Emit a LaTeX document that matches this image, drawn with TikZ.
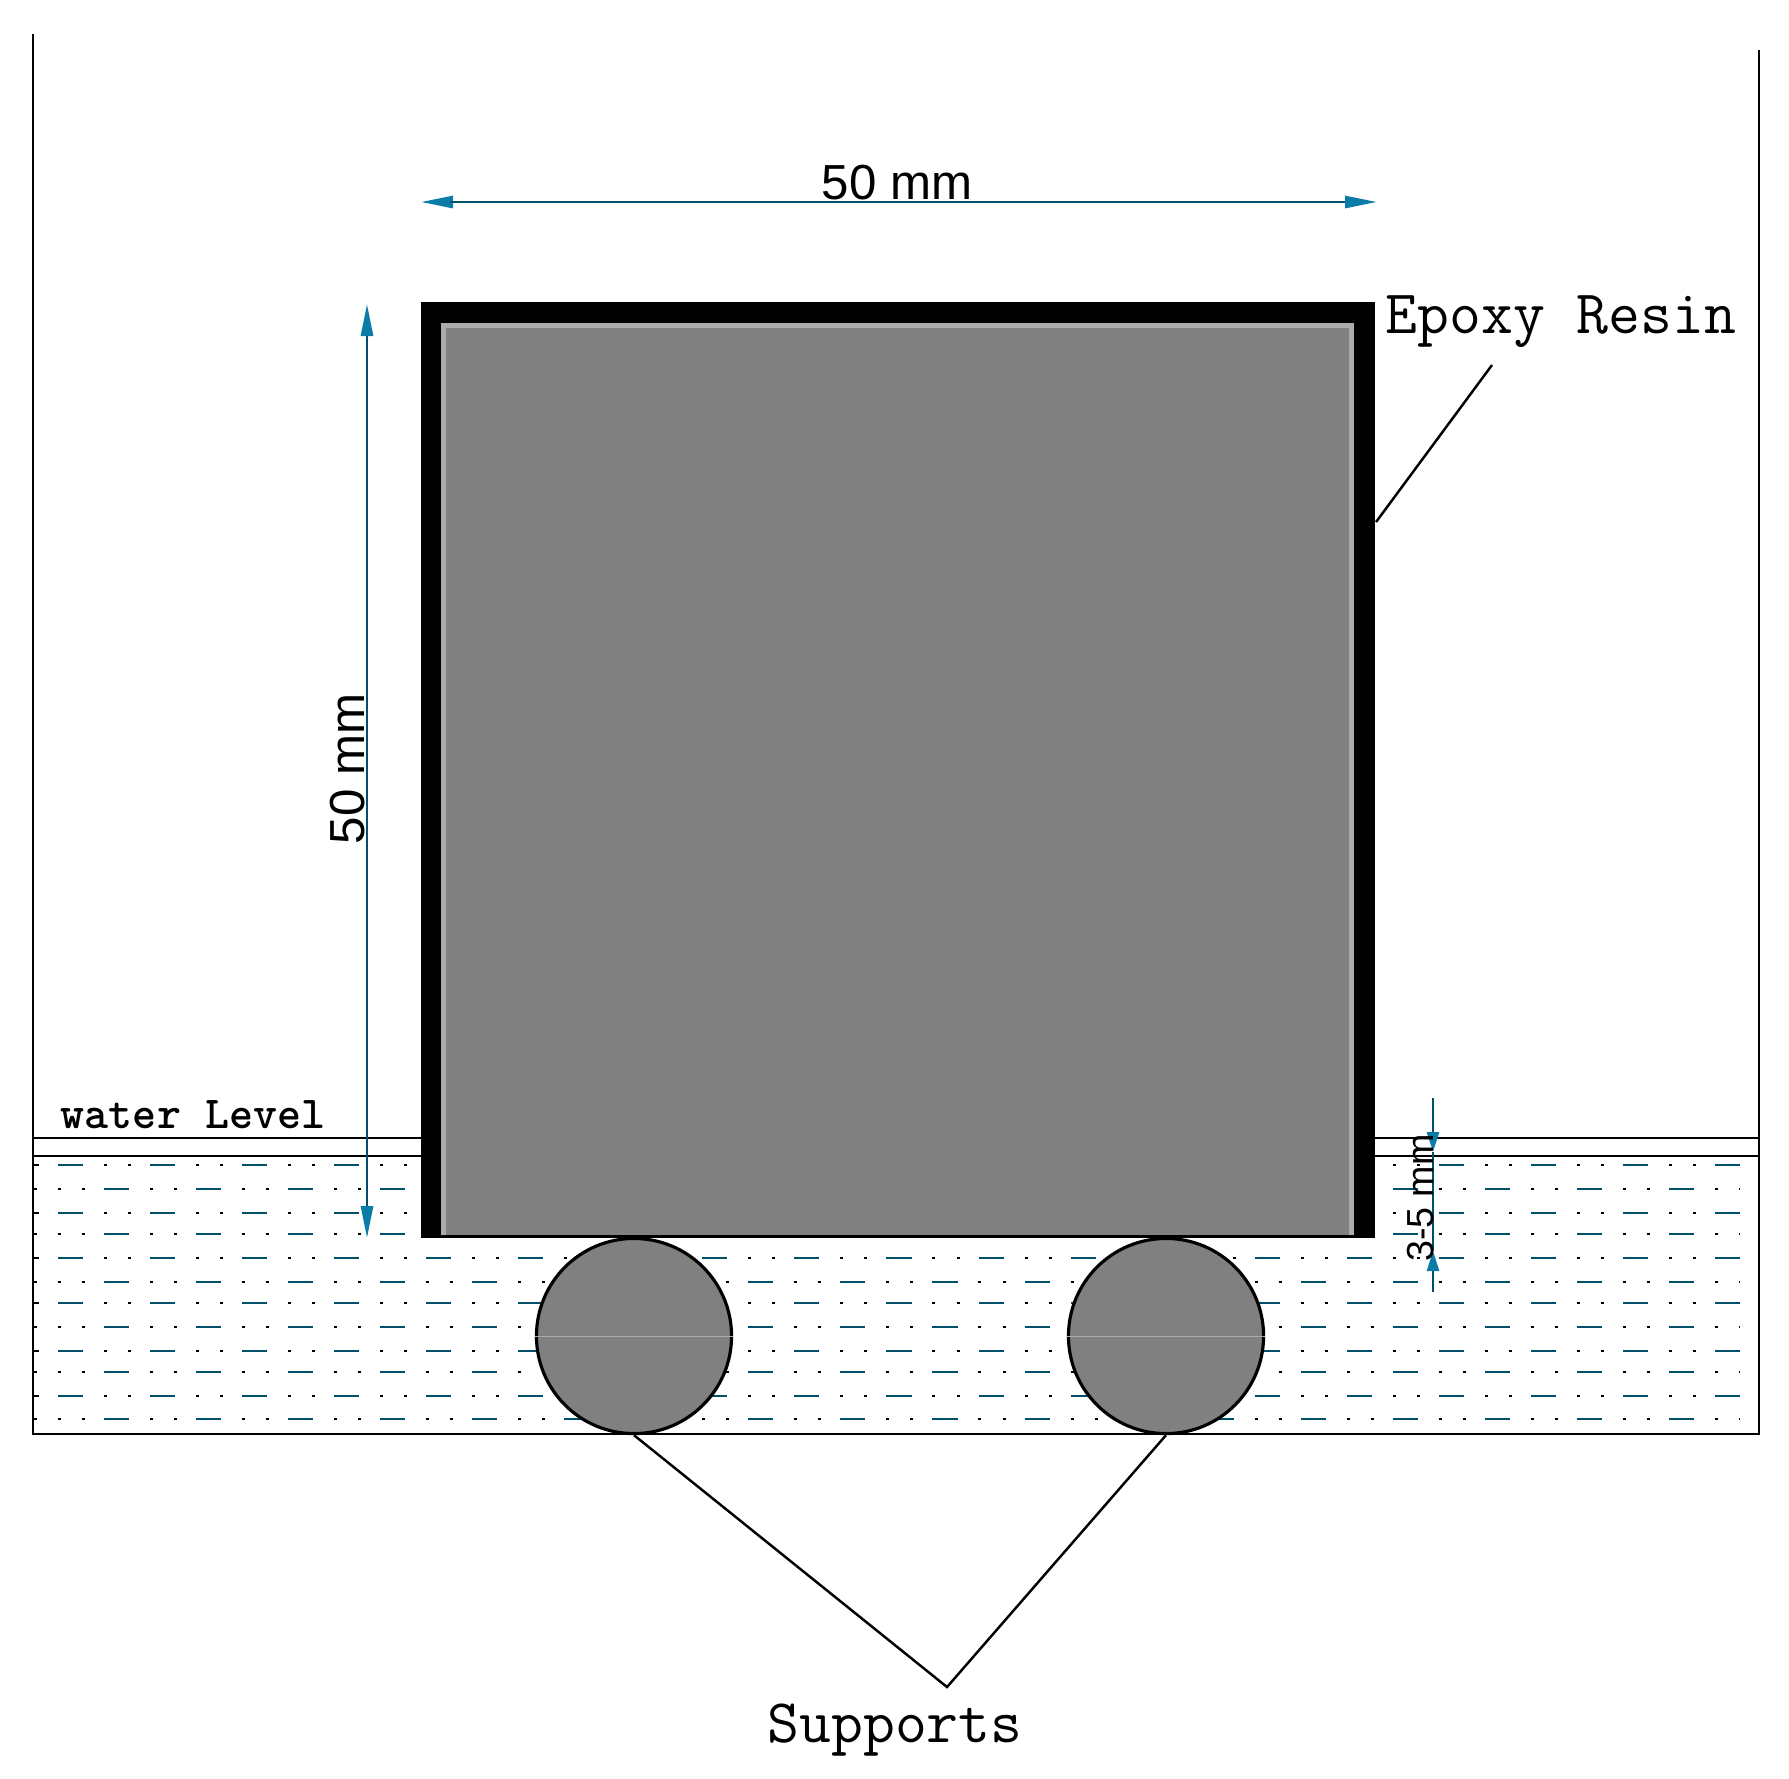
\documentclass[tikz,border=0pt]{standalone}
\usepackage{fontspec}
\newfontfamily\dimfont{Liberation Sans}
\usetikzlibrary{positioning,arrows.meta}
\definecolor{colLine}{HTML}{004F6B}
\definecolor{colTip}{HTML}{0A7CA8}
\definecolor{colFill}{HTML}{808080}
\definecolor{colEdge}{HTML}{ABABAB}
\tikzstyle{styBlock}=[rectangle,fill=black,inner sep=0,outer sep=0,minimum width=9.54cm,minimum height=9.36cm]
\tikzstyle{styEdge}=[rectangle,fill=colEdge,inner sep=0,outer sep=0,minimum width=9.13cm,minimum height=9.12cm]
\tikzstyle{styCore}=[rectangle,fill=colFill,inner sep=0,outer sep=0,minimum width=9.03cm,minimum height=9.07cm]
\tikzstyle{styRoll}=[circle,draw=black,line width=0.9pt,fill=colFill,inner sep=0,minimum size=1.95cm]
\tikzstyle{styWall}=[black,line width=0.8pt]
\tikzstyle{styThin}=[black,line width=0.7pt]
\tikzstyle{myarrow}=[colLine,line width=0.8pt,-{Stealth[length=0.32cm,width=0.12cm,inset=0pt,fill=colTip,color=colTip]}]
\tikzstyle{shortarrow}=[colLine,line width=0.8pt,-{Stealth[length=0.2cm,width=0.12cm,inset=0pt,fill=colTip,color=colTip]}]
\tikzstyle{styDash}=[colLine,line width=0.8pt,dash pattern=on 0.25cm off 0.67cm]
\tikzstyle{styDot}=[black,line width=0.8pt,dash pattern=on 0.03cm off 0.21cm on 0.03cm off 0.65cm]
\tikzstyle{styLabel}=[inner sep=0,font=\ttfamily\fontsize{17.6}{20}\selectfont]
\tikzstyle{styWater}=[inner sep=0,font=\ttfamily\bfseries\fontsize{13}{15}\selectfont]
\tikzstyle{styDim}=[inner sep=0,font=\dimfont\fontsize{14}{16}\selectfont]

\begin{document}
\begin{tikzpicture}[x=0.01cm,y=-0.01cm]
\useasboundingbox (0,0) rectangle (1789,1778);

% water, row by row
\foreach \rowY/\rowX in {1165/58,1189/104,1213/58,1234/104,1258/58,1282/104,1303/58,1327/104,1351/58,1372/104,1396/58,1419/104} {
  \begin{scope}
  \clip (34,1150) rectangle (1740,1430);
  \draw[styDash] (\rowX,\rowY) -- (1740,\rowY);
  \draw[styDot] (\rowX+46,\rowY) -- (1740,\rowY);
  \draw[styDot] (\rowX-46,\rowY) -- (\rowX,\rowY);
  \end{scope}
  \fill (33,\rowY-1) rectangle (37,\rowY+1);
}

% tank
\coordinate (tankTL) at (33,34);
\coordinate (tankBL) at (33,1434);
\coordinate (tankBR) at (1759,1434);
\coordinate (tankTR) at (1759,50);
\draw[styWall] (tankTL) -- (tankBL) -- (tankBR) -- (tankTR);

% block
\node[styBlock] (nodeBlock) at (898,770) {};
\node[styEdge] (nodeEdge) at (897.5,779) {};
\node[styCore] (nodeCore) at (897.5,781.5) {};

% water level
\draw[styThin] (33,1138) -- (nodeBlock.west |- 0,1138);
\draw[styThin] (33,1156) -- (nodeBlock.west |- 0,1156);
\draw[styThin] (nodeBlock.east |- 0,1138) -- (1759,1138);
\draw[styThin] (nodeBlock.east |- 0,1156) -- (1759,1156);
\node[styWater] (nodeWater) at (193,1115) {water Level};

% supports
\node[styRoll] (nodeRollA) at (634,1336) {};
\node[styRoll] (nodeRollB) at (1166,1336) {};
\draw[colEdge,line width=0.3pt] (nodeRollA.west) -- (nodeRollA.east);
\draw[colEdge,line width=0.3pt] (nodeRollB.west) -- (nodeRollB.east);
\coordinate (supJoin) at (947,1687);
\draw[styThin] (nodeRollA.south) -- (supJoin) -- (nodeRollB.south);
\node[styLabel] (nodeSup) at (895,1730) {Supports};

% resin label
\node[styLabel] (nodeResin) at (1561,322) {Epoxy Resin};
\coordinate (resinEnd) at (1492,365);
\coordinate (resinTip) at (1376,522);
\draw[styThin] (resinEnd) -- (resinTip);

% dimensions
\coordinate (dimWL) at (450,202);
\coordinate (dimWR) at (1347,202);
\coordinate (dimWLt) at (421,202);
\coordinate (dimWRt) at (1377,202);
\draw[myarrow] (dimWR) -- (dimWLt);
\draw[myarrow] (dimWL) -- (dimWRt);
\node[styDim] (nodeWidth) at (897,183) {50 mm};
\coordinate (dimHT) at (367,304);
\coordinate (dimHB) at (367,1238);
\coordinate (dimHM) at (367,770);
\draw[myarrow] (dimHM) -- (dimHT);
\draw[myarrow] (dimHM) -- (dimHB);
\node[styDim,rotate=90] (nodeHeight) at (348,769) {50 mm};
\coordinate (gapTop) at (1433,1098);
\coordinate (gapTopT) at (1433,1152);
\coordinate (gapBot) at (1433,1292);
\coordinate (gapBotT) at (1433,1251);
\draw[shortarrow] (gapTop) -- (gapTopT);
\draw[shortarrow] (gapBot) -- (gapBotT);
\draw[colLine,line width=0.8pt] (gapTopT) -- (gapBotT);
\node[styDim,rotate=90,font=\dimfont\fontsize{10.7}{12}\selectfont] (nodeGap) at (1421,1198) {3-5 mm};
\end{tikzpicture}
\end{document}
